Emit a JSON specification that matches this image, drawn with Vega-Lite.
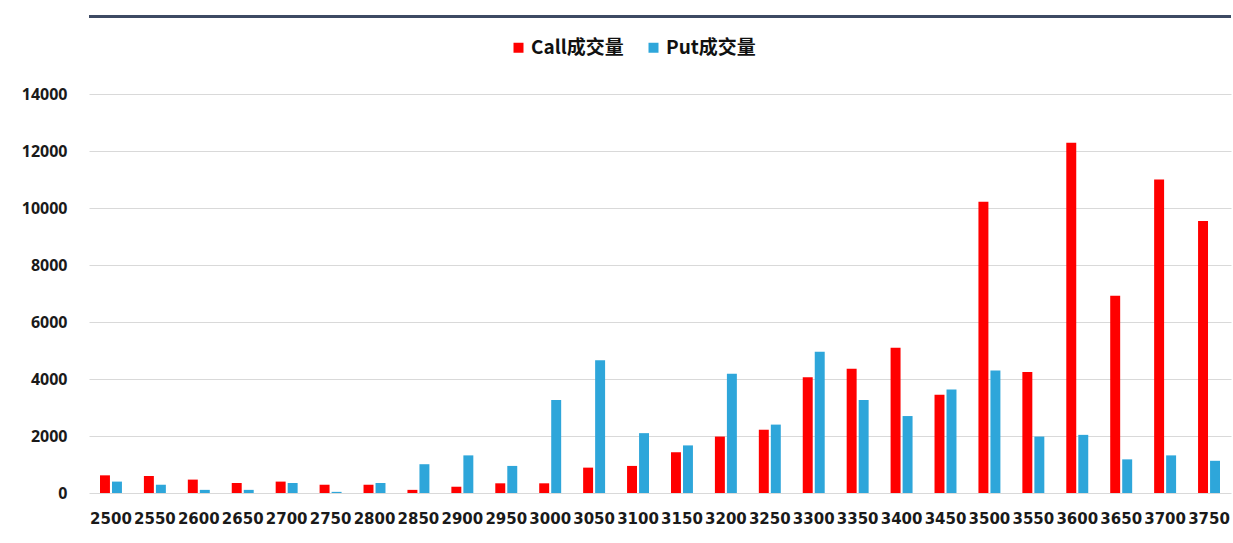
{
  "$schema": "https://vega.github.io/schema/vega-lite/v6.json",
  "width": 1142,
  "height": 399,
  "padding": {"left": 21, "top": 14, "right": 1, "bottom": 16},
  "background": "white",
  "config": {
    "view": {"stroke": null},
    "font": "Noto Sans CJK SC"
  },
  "layer": [
    {
      "data": {
        "values": [
          {"strike": "2500", "type": "Call成交量", "volume": 620},
          {"strike": "2550", "type": "Call成交量", "volume": 600},
          {"strike": "2600", "type": "Call成交量", "volume": 470},
          {"strike": "2650", "type": "Call成交量", "volume": 350},
          {"strike": "2700", "type": "Call成交量", "volume": 400},
          {"strike": "2750", "type": "Call成交量", "volume": 290},
          {"strike": "2800", "type": "Call成交量", "volume": 290},
          {"strike": "2850", "type": "Call成交量", "volume": 110},
          {"strike": "2900", "type": "Call成交量", "volume": 220},
          {"strike": "2950", "type": "Call成交量", "volume": 340},
          {"strike": "3000", "type": "Call成交量", "volume": 340},
          {"strike": "3050", "type": "Call成交量", "volume": 890},
          {"strike": "3100", "type": "Call成交量", "volume": 950},
          {"strike": "3150", "type": "Call成交量", "volume": 1430},
          {"strike": "3200", "type": "Call成交量", "volume": 1980},
          {"strike": "3250", "type": "Call成交量", "volume": 2220},
          {"strike": "3300", "type": "Call成交量", "volume": 4060},
          {"strike": "3350", "type": "Call成交量", "volume": 4360},
          {"strike": "3400", "type": "Call成交量", "volume": 5100},
          {"strike": "3450", "type": "Call成交量", "volume": 3450},
          {"strike": "3500", "type": "Call成交量", "volume": 10220},
          {"strike": "3550", "type": "Call成交量", "volume": 4250},
          {"strike": "3600", "type": "Call成交量", "volume": 12290},
          {"strike": "3650", "type": "Call成交量", "volume": 6920},
          {"strike": "3700", "type": "Call成交量", "volume": 11000},
          {"strike": "3750", "type": "Call成交量", "volume": 9540},
          {"strike": "2500", "type": "Put成交量", "volume": 400},
          {"strike": "2550", "type": "Put成交量", "volume": 290},
          {"strike": "2600", "type": "Put成交量", "volume": 110},
          {"strike": "2650", "type": "Put成交量", "volume": 110},
          {"strike": "2700", "type": "Put成交量", "volume": 350},
          {"strike": "2750", "type": "Put成交量", "volume": 40},
          {"strike": "2800", "type": "Put成交量", "volume": 350},
          {"strike": "2850", "type": "Put成交量", "volume": 1010},
          {"strike": "2900", "type": "Put成交量", "volume": 1320},
          {"strike": "2950", "type": "Put成交量", "volume": 950},
          {"strike": "3000", "type": "Put成交量", "volume": 3260},
          {"strike": "3050", "type": "Put成交量", "volume": 4660},
          {"strike": "3100", "type": "Put成交量", "volume": 2100},
          {"strike": "3150", "type": "Put成交量", "volume": 1670},
          {"strike": "3200", "type": "Put成交量", "volume": 4180},
          {"strike": "3250", "type": "Put成交量", "volume": 2400},
          {"strike": "3300", "type": "Put成交量", "volume": 4960},
          {"strike": "3350", "type": "Put成交量", "volume": 3260},
          {"strike": "3400", "type": "Put成交量", "volume": 2700},
          {"strike": "3450", "type": "Put成交量", "volume": 3630},
          {"strike": "3500", "type": "Put成交量", "volume": 4300},
          {"strike": "3550", "type": "Put成交量", "volume": 1980},
          {"strike": "3600", "type": "Put成交量", "volume": 2040},
          {"strike": "3650", "type": "Put成交量", "volume": 1180},
          {"strike": "3700", "type": "Put成交量", "volume": 1320},
          {"strike": "3750", "type": "Put成交量", "volume": 1130}
        ]
      },
      "mark": {"type": "bar"},
      "encoding": {
        "x": {
          "field": "strike",
          "type": "nominal",
          "sort": null,
          "scale": {"paddingInner": 0.5, "paddingOuter": 0.25},
          "axis": {
            "title": null,
            "labelAngle": 0,
            "labelFont": "DejaVu Sans",
            "labelFontWeight": "bold",
            "labelFontSize": 15,
            "labelColor": "#1a1a1a",
            "labelPadding": 18,
            "labelOverlap": false,
            "ticks": false,
            "tickSize": 0,
            "domain": false,
            "grid": false
          }
        },
        "xOffset": {
          "field": "type",
          "type": "nominal",
          "sort": ["Call成交量", "Put成交量"],
          "scale": {"paddingInner": 0.17}
        },
        "y": {
          "field": "volume",
          "type": "quantitative",
          "scale": {"domain": [0, 14000], "nice": false},
          "axis": {
            "title": null,
            "values": [0, 2000, 4000, 6000, 8000, 10000, 12000, 14000],
            "format": "d",
            "labelFont": "Noto Sans",
            "labelFontWeight": "bold",
            "labelFontSize": 16,
            "labelColor": "#1a1a1a",
            "labelPadding": 22,
            "ticks": false,
            "tickSize": 0,
            "domain": false,
            "grid": true,
            "gridColor": "#d9d9d9",
            "gridWidth": 1
          }
        },
        "color": {
          "field": "type",
          "type": "nominal",
          "sort": ["Call成交量", "Put成交量"],
          "scale": {"domain": ["Call成交量", "Put成交量"], "range": ["#ff0000", "#2ea6da"]},
          "legend": {
            "title": null,
            "orient": "none",
            "legendX": 420,
            "legendY": -56,
            "direction": "horizontal",
            "symbolType": "square",
            "symbolSize": 100,
            "symbolStrokeWidth": 0,
            "labelFont": "Noto Sans CJK SC",
            "labelFontWeight": "bold",
            "labelFontSize": 19,
            "labelColor": "#111111",
            "labelOffset": 3,
            "columnPadding": 20
          }
        }
      }
    },
    {
      "data": {"values": [{"line": "top"}]},
      "mark": {"type": "rule", "color": "#3d4a63", "strokeWidth": 3, "clip": false},
      "encoding": {
        "y": {"datum": 16720}
      }
    }
  ]
}
